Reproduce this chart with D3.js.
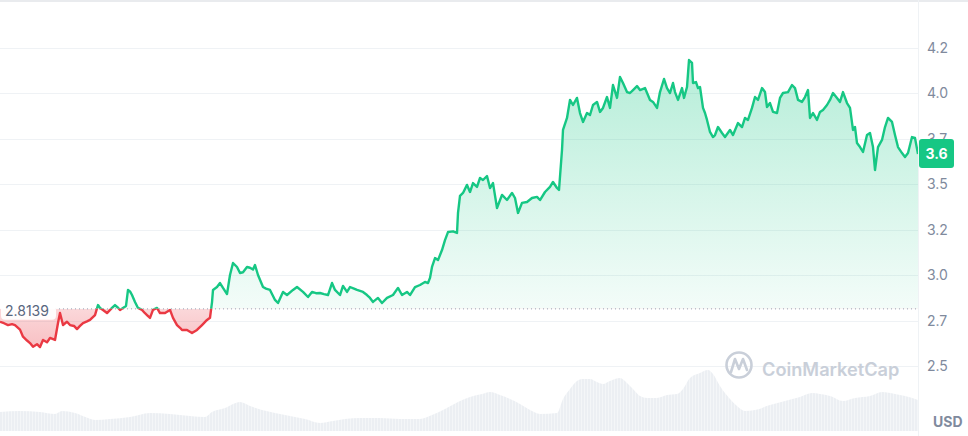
<!DOCTYPE html>
<html>
<head>
<meta charset="utf-8">
<script src="https://cdn.jsdelivr.net/npm/d3@7/dist/d3.min.js"></script>
<style>
  html, body { margin: 0; padding: 0; background: #ffffff; }
  svg { display: block; font-family: Inter, "Noto Sans", sans-serif; }
</style>
</head>
<body>
<svg id="chart" width="968" height="436"></svg>
<script>
// ---------- DATA ----------
const baselinePrice = 2.8139;
const lastPriceLabel = "3.6";
const currency = "USD";
const tickValues = [4.25, 4.0, 3.75, 3.5, 3.25, 3.0, 2.75, 2.5];
const tickLabels = ["4.2", "4.0", "3.7", "3.5", "3.2", "3.0", "2.7", "2.5"];

// time in hours since the start of the window
const priceTimes = [0,4,8,12,15,20,23,27,30,33,37,40,43,47,50,55,58,60,63,67,70,74,77,80,83,87,90,95,98,100,103,107,112,115,118,120,123,126,128,130,132,135,138,142,145,147,150,153,157,160,165,170,173,177,180,182,187,192,197,202,207,210,212,213,217,220,223,227,230,233,237,240,243,247,250,253,255,258,263,266,270,275,278,283,287,293,297,303,308,312,316,320,324,328,332,335,340,343,347,350,354,357,363,367,370,373,378,382,387,393,398,402,407,410,415,420,425,428,430,432,435,438,442,445,448,453,457,458,460,463,467,470,473,477,480,483,487,490,493,497,502,507,512,515,518,522,527,532,537,540,545,550,553,557,559,562,563,567,570,573,577,580,583,587,590,593,597,600,603,607,610,613,617,620,623,627,630,633,637,640,645,650,653,657,660,664,667,670,673,675,678,682,684,687,689,692,693,696,698,700,703,705,707,710,713,715,718,722,725,730,733,738,742,745,748,752,755,758,762,765,767,770,773,777,780,783,788,792,795,798,802,805,808,810,813,817,820,823,827,830,833,837,840,843,847,850,853,855,857,860,863,867,870,873,875,878,882,885,888,892,895,898,902,905,908,912,915,918];
const prices = [2.743,2.735,2.725,2.730,2.725,2.700,2.661,2.640,2.626,2.606,2.620,2.604,2.643,2.630,2.654,2.643,2.736,2.791,2.725,2.743,2.725,2.720,2.703,2.720,2.736,2.745,2.753,2.780,2.835,2.819,2.808,2.791,2.819,2.835,2.820,2.808,2.819,2.830,2.918,2.910,2.890,2.852,2.819,2.808,2.790,2.780,2.764,2.808,2.819,2.791,2.791,2.808,2.764,2.725,2.710,2.698,2.698,2.681,2.698,2.725,2.753,2.765,2.850,2.918,2.934,2.956,2.929,2.895,3.000,3.066,3.044,3.011,3.015,3.044,3.040,3.030,3.055,3.000,2.934,2.925,2.918,2.863,2.846,2.907,2.890,2.918,2.934,2.907,2.879,2.907,2.900,2.901,2.895,2.890,2.956,2.918,2.890,2.940,2.907,2.934,2.925,2.918,2.907,2.890,2.874,2.852,2.874,2.846,2.874,2.890,2.929,2.890,2.907,2.890,2.934,2.945,2.962,2.956,2.984,3.044,3.093,3.082,3.137,3.192,3.236,3.240,3.231,3.341,3.435,3.451,3.495,3.456,3.505,3.484,3.533,3.522,3.544,3.478,3.505,3.368,3.440,3.412,3.451,3.423,3.341,3.396,3.401,3.423,3.429,3.412,3.456,3.484,3.511,3.478,3.467,3.687,3.797,3.863,3.962,3.934,3.973,3.890,3.841,3.890,3.879,3.934,3.951,3.896,3.918,3.978,3.918,4.044,3.973,4.088,4.055,4.005,4.000,4.016,4.038,4.016,4.027,3.962,3.951,3.918,4.005,4.077,4.027,4.000,4.055,4.005,3.962,4.027,3.973,4.033,4.181,4.165,4.055,4.060,4.027,4.033,3.918,3.890,3.852,3.786,3.758,3.769,3.813,3.780,3.758,3.797,3.769,3.835,3.813,3.863,3.852,3.918,3.978,3.962,4.027,4.005,3.923,3.945,3.896,3.890,3.973,4.000,4.005,4.044,4.027,3.962,3.951,3.978,4.016,3.863,3.890,3.852,3.896,3.907,3.934,3.962,4.000,3.973,3.951,4.005,3.945,3.918,3.797,3.813,3.725,3.703,3.676,3.769,3.780,3.703,3.577,3.703,3.742,3.813,3.863,3.841,3.769,3.703,3.670,3.648,3.670,3.758,3.753,3.665];

// volume (millions USD, relative)
const volTimes = [0,20,40,55,62,75,88,95,110,130,150,170,190,205,212,225,240,250,262,275,290,305,320,333,345,360,380,400,420,432,445,458,470,482,490,500,510,520,530,540,557,563,570,577,583,590,597,603,610,620,627,633,640,647,657,667,677,683,690,700,708,713,720,730,737,745,755,770,785,800,812,820,830,843,855,870,882,895,905,918];
const volumes = [19,20,19,17,20,18,13,11,12,14,18,17,15,14,19,23,29,25,21,18,15,12,8,10,12,13,13,12,12,16,22,29,34,37,39,36,32,27,21,17,18,32,42,50,52,52,49,47,50,53,48,42,35,33,33,36,37,42,53,58,61,57,45,32,25,20,21,26,30,34,38,37,35,30,33,35,39,37,35,31];

// ---------- CHART ----------
const W = 968, H = 436, plotRight = 918;
const svg = d3.select("#chart");
const defs = svg.append("defs");

const x = d3.scaleLinear().domain([0, 918]).range([0, plotRight]);
const y = d3.scaleLinear().domain([2.5, 4.25]).range([366, 47.5]);
const yVol = d3.scaleLinear().domain([0, 75]).range([431, 356]);
const yBase = y(baselinePrice);

const series = priceTimes.map((t, i) => ({ t, p: prices[i] }));
const volSeries = volTimes.map((t, i) => ({ t, v: volumes[i] }));

// gradients
const gG = defs.append("linearGradient").attr("id", "gGreen")
  .attr("gradientUnits", "userSpaceOnUse").attr("x1", 0).attr("x2", 0)
  .attr("y1", y(4.2)).attr("y2", yBase);
gG.append("stop").attr("offset", 0).attr("stop-color", "#16c784").attr("stop-opacity", 0.32);
gG.append("stop").attr("offset", 1).attr("stop-color", "#16c784").attr("stop-opacity", 0.05);

const gR = defs.append("linearGradient").attr("id", "gRed")
  .attr("gradientUnits", "userSpaceOnUse").attr("x1", 0).attr("x2", 0)
  .attr("y1", yBase).attr("y2", y(2.6));
gR.append("stop").attr("offset", 0).attr("stop-color", "#ea3943").attr("stop-opacity", 0.2);
gR.append("stop").attr("offset", 1).attr("stop-color", "#ea3943").attr("stop-opacity", 0.32);

// stripe pattern for volume
const pat = defs.append("pattern").attr("id", "stripes")
  .attr("patternUnits", "userSpaceOnUse").attr("width", 3).attr("height", 10);
pat.append("rect").attr("width", 3).attr("height", 10).attr("fill", "#f4f6f8");
pat.append("rect").attr("width", 2).attr("height", 10).attr("fill", "#eceff3");

// clip paths
defs.append("clipPath").attr("id", "clipAbove")
  .append("rect").attr("x", 0).attr("y", 0).attr("width", plotRight).attr("height", yBase);
defs.append("clipPath").attr("id", "clipBelow")
  .append("rect").attr("x", 0).attr("y", yBase).attr("width", plotRight).attr("height", H - yBase);

// top border
svg.append("line").attr("x1", 0).attr("x2", W).attr("y1", 1).attr("y2", 1)
  .attr("stroke", "#e9ebee").attr("stroke-width", 2);

// grid lines
svg.append("g").selectAll("line").data(tickValues).join("line")
  .attr("x1", 0).attr("x2", plotRight)
  .attr("y1", d => Math.round(y(d)) + 0.5).attr("y2", d => Math.round(y(d)) + 0.5)
  .attr("stroke", "#eff2f5").attr("stroke-width", 1);

// right divider
svg.append("line").attr("x1", plotRight + 0.5).attr("x2", plotRight + 0.5)
  .attr("y1", 0).attr("y2", H).attr("stroke", "#eff2f5");

// volume
svg.append("path").datum(volSeries)
  .attr("d", d3.area().x(d => x(d.t)).y0(yVol(0)).y1(d => yVol(d.v)).curve(d3.curveMonotoneX))
  .attr("fill", "url(#stripes)");

// watermark
const wm = svg.append("g").attr("fill", "none").attr("stroke", "#c9cfd9");
wm.append("circle").attr("cx", 739).attr("cy", 365).attr("r", 12.5).attr("stroke-width", 2.6);
wm.append("path").attr("d", "M731,372 L735,359 L739,369 L743,359 L747,370")
  .attr("stroke-width", 2.6).attr("stroke-linejoin", "round").attr("stroke-linecap", "round");
svg.append("text").attr("x", 762).attr("y", 376).text("CoinMarketCap")
  .attr("fill", "#c9cfd9").attr("font-size", 18.2).attr("font-weight", 600);

// areas
const area = d3.area().x(d => x(d.t)).y0(yBase).y1(d => y(d.p));
svg.append("path").datum(series).attr("d", area)
  .attr("fill", "url(#gGreen)").attr("clip-path", "url(#clipAbove)");
svg.append("path").datum(series).attr("d", area)
  .attr("fill", "url(#gRed)").attr("clip-path", "url(#clipBelow)");

// baseline dotted
svg.append("line").attr("x1", 55).attr("x2", plotRight).attr("y1", yBase).attr("y2", yBase)
  .attr("stroke", "#9aa2b3").attr("stroke-width", 1).attr("stroke-dasharray", "1,3");

// lines
const line = d3.line().x(d => x(d.t)).y(d => y(d.p));
svg.append("path").datum(series).attr("d", line)
  .attr("fill", "none").attr("stroke", "#16c784").attr("stroke-width", 2.4)
  .attr("stroke-linejoin", "round").attr("clip-path", "url(#clipAbove)");
svg.append("path").datum(series).attr("d", line)
  .attr("fill", "none").attr("stroke", "#ea3943").attr("stroke-width", 2.4)
  .attr("stroke-linejoin", "round").attr("clip-path", "url(#clipBelow)");

// baseline label
svg.append("rect").attr("x", 1).attr("y", yBase - 10).attr("width", 55).attr("height", 21)
  .attr("rx", 4).attr("fill", "#ffffff").attr("fill-opacity", 0.92);
svg.append("text").attr("x", 5).attr("y", yBase + 7).text(d3.format(".4f")(baselinePrice))
  .attr("fill", "#58667e").attr("font-size", 14);

// y axis labels
svg.append("g").selectAll("text").data(tickValues).join("text")
  .attr("x", 927).attr("y", d => y(d) + 5)
  .text((d, i) => tickLabels[i])
  .attr("fill", "#808a9d").attr("font-size", 14);

// current price tag
const lastP = prices[prices.length - 1];
svg.append("rect").attr("x", 919).attr("y", y(lastP) - 15).attr("width", 35).attr("height", 29)
  .attr("rx", 3).attr("fill", "#16c784");
svg.append("text").attr("x", 936.5).attr("y", y(lastP) + 5).attr("text-anchor", "middle")
  .text(lastPriceLabel).attr("fill", "#ffffff").attr("font-size", 14).attr("font-weight", 700);

// currency
svg.append("text").attr("x", 933).attr("y", 427).text(currency)
  .attr("fill", "#808a9d").attr("font-size", 14).attr("font-weight", 700);
</script>
</body>
</html>
